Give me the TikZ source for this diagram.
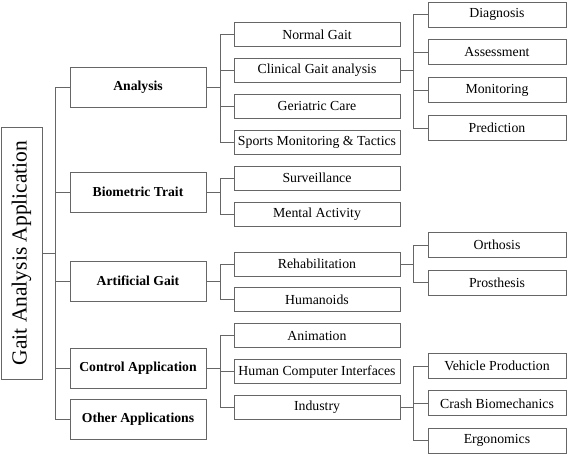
\documentclass[tikz,border=0pt]{standalone}
\usepackage{fontspec}
\setmainfont{Liberation Serif}
\usetikzlibrary{positioning}

\begin{document}
\begin{tikzpicture}[x=1pt, y=-1pt,
  box/.style = {draw=black!60, line width=0.9pt, inner sep=0pt, font=\fontsize{13.8}{16}\selectfont},
  rootbox/.style = {box, rotate=90, minimum width=252pt, minimum height=41pt, font=\fontsize{21.5}{24}\selectfont},
  catbox/.style = {box, minimum width=136pt, minimum height=40pt, font=\fontsize{13.7}{16}\selectfont\bfseries},
  subbox/.style = {box, minimum width=166pt, minimum height=24pt},
  leafbox/.style = {box, minimum width=138pt, minimum height=25pt},
  link/.style = {draw=black!60, line width=0.9pt}]
  \useasboundingbox (0,0) rectangle (568,454);

  % root
  \node[rootbox] (root) at (21.5,253) {Gait Analysis Application};

  % first level
  \node[catbox] (ana) at (138,87) {Analysis};
  \node[catbox] (bio) at (138,192) {Biometric Trait};
  \node[catbox] (art) at (138,281) {Artificial Gait};
  \node[catbox] (ctl) at (138,368.5) {Control Application};
  \node[catbox] (oth) at (138,419) {Other Applications};

  % second level
  \node[subbox] (ng) at (317,34.5) {Normal Gait};
  \node[subbox, below=11pt of ng] (cga) {Clinical Gait analysis};
  \node[subbox, below=11pt of cga] (gc) {Geriatric Care};
  \node[subbox, below=11pt of gc] (smt) {Sports Monitoring \& Tactics};
  \node[subbox, below=11pt of smt] (sur) {Surveillance};
  \node[subbox, below=11pt of sur] (ma) {Mental Activity};
  \node[subbox] (reh) at (317,264) {Rehabilitation};
  \node[subbox, below=11pt of reh] (hum) {Humanoids};
  \node[subbox, below=11pt of hum] (anim) {Animation};
  \node[subbox, below=11pt of anim] (hci) {Human Computer Interfaces};
  \node[subbox, below=11pt of hci] (ind) {Industry};

  % third level
  \node[leafbox] (dia) at (497,14.5) {Diagnosis};
  \node[leafbox, below=12pt of dia] (ass) {Assessment};
  \node[leafbox, below=12pt of ass] (mon) {Monitoring};
  \node[leafbox, below=12pt of mon] (pre) {Prediction};
  \node[leafbox] (ort) at (497,245) {Orthosis};
  \node[leafbox, below=12pt of ort] (pro) {Prosthesis};
  \node[leafbox] (veh) at (497,366) {Vehicle Production};
  \node[leafbox, below=11.5pt of veh] (cb) {Crash Biomechanics};
  \node[leafbox, below=11.5pt of cb] (erg) {Ergonomics};

  % junctions
  \coordinate (rootj) at ([xshift=13pt]root.south);
  \coordinate (anaj) at ([xshift=14pt]ana.east);
  \coordinate (bioj) at ([xshift=14pt]bio.east);
  \coordinate (artj) at ([xshift=14pt]art.east);
  \coordinate (ctlj) at ([xshift=14pt]ctl.east);
  \coordinate (cgaj) at ([xshift=13pt]cga.east);
  \coordinate (rehj) at ([xshift=13pt]reh.east);
  \coordinate (indj) at ([xshift=13pt]ind.east);

  % connectors
  \draw[link] (root.south) -- (rootj);
  \foreach \n in {ana,bio,art,ctl,oth}
    \draw[link] (rootj) |- (\n.west);
  \draw[link] (ana.east) -- (anaj);
  \foreach \n in {ng,cga,gc,smt}
    \draw[link] (anaj) |- (\n.west);
  \draw[link] (bio.east) -- (bioj);
  \foreach \n in {sur,ma}
    \draw[link] (bioj) |- (\n.west);
  \draw[link] (art.east) -- (artj);
  \foreach \n in {reh,hum}
    \draw[link] (artj) |- (\n.west);
  \draw[link] (ctl.east) -- (ctlj);
  \foreach \n in {anim,hci,ind}
    \draw[link] (ctlj) |- (\n.west);
  \draw[link] (cga.east) -- (cgaj);
  \foreach \n in {dia,ass,mon,pre}
    \draw[link] (cgaj) |- (\n.west);
  \draw[link] (reh.east) -- (rehj);
  \foreach \n in {ort,pro}
    \draw[link] (rehj) |- (\n.west);
  \draw[link] (ind.east) -- (indj);
  \foreach \n in {veh,cb,erg}
    \draw[link] (indj) |- (\n.west);
\end{tikzpicture}
\end{document}
